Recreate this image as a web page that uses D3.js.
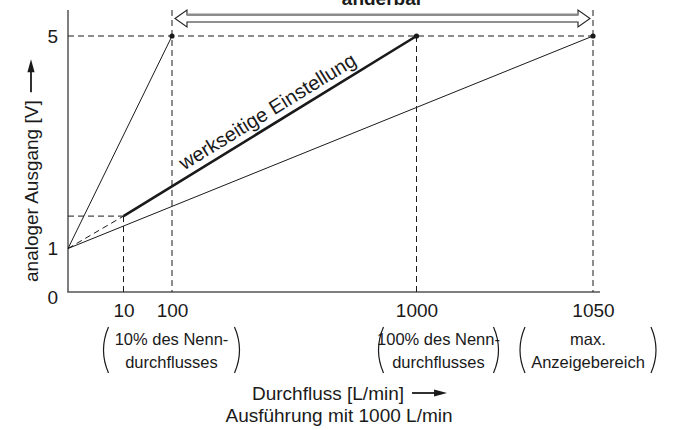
<!DOCTYPE html>
<html><head><meta charset="utf-8">
<script src="https://cdn.jsdelivr.net/npm/d3@7"></script>
<style>
html,body{margin:0;padding:0;background:#fff;}
svg{display:block;font-family:"Liberation Sans",Arial,Helvetica,sans-serif;}
</style>
</head><body>
<svg id="chart" width="678" height="430"></svg>
<script>
// Flow values marked on the x axis [L/min]
const flowTicks = [10, 100, 1000, 1050];
// Output voltages marked on the y axis [V]
const voltTicks = [0, 1, 5];
// Characteristic curves as [flow, voltage]
const curveSteep = [[0, 1], [100, 5]];          // smallest adjustable range
const curveFactory = [[10, 1.61], [1000, 5]];   // factory setting
const curveFactoryLow = [[0, 1], [10, 1.61]];   // its continuation below 10 %
const curveMax = [[0, 1], [1050, 5]];           // largest adjustable range
// Full-scale points
const fullScalePoints = [[100, 5], [1000, 5], [1050, 5]];
// Notes under the flow ticks
const noteFlows = [10, 1000, 1050];
const noteLines = [
  ["10% des Nenn-", "durchflusses"],
  ["100% des Nenn-", "durchflusses"],
  ["max.", "Anzeigebereich"]
];

const svg = d3.select("#chart");
const ink = "#1a1a1a";
const fs = 19;

// Schematic (piecewise) scales
const x = d3.scaleLinear().domain([0, ...flowTicks]).range([68, 123.5, 172, 416.5, 593]);
const y = d3.scaleLinear().domain(voltTicks).range([292, 248.5, 36]);
const line = d3.line().x(d => x(d[0])).y(d => y(d[1]));

// axis lines
svg.append("line").attr("x1", x(0)).attr("x2", x(0)).attr("y1", 10).attr("y2", y(0))
  .attr("stroke", "#555").attr("stroke-width", 1.5);
svg.append("line").attr("x1", x(0) - 0.75).attr("x2", 600).attr("y1", y(0)).attr("y2", y(0))
  .attr("stroke", "#555").attr("stroke-width", 1.5);

// tick labels via d3 axes
const gx = svg.append("g").attr("transform", `translate(0,${y(0)})`)
  .call(d3.axisBottom(x).tickValues(flowTicks).tickSize(0).tickPadding(12).tickFormat(d3.format("d")));
gx.select(".domain").remove();
gx.selectAll("text").attr("font-size", fs).attr("fill", ink).attr("font-family", null);

const gy = svg.append("g").attr("transform", `translate(${x(0)},0)`)
  .call(d3.axisLeft(y).tickValues(voltTicks).tickSize(0).tickPadding(10).tickFormat(d3.format("d")));
gy.select(".domain").remove();
gy.selectAll("text").attr("font-size", fs).attr("fill", ink).attr("font-family", null)
  .attr("dy", d => d === 0 ? "0.6em" : "0.34em");

// dashed guide lines
const dash = "6,4";
const guides = svg.append("g").attr("stroke", ink).attr("stroke-width", 1).attr("stroke-dasharray", dash).attr("fill", "none");
guides.append("line").attr("x1", x(0)).attr("x2", x(1050)).attr("y1", y(5)).attr("y2", y(5));
guides.append("line").attr("x1", x(0)).attr("x2", x(10)).attr("y1", y(curveFactory[0][1])).attr("y2", y(curveFactory[0][1]));
guides.append("line").attr("x1", x(10)).attr("x2", x(10)).attr("y1", y(curveFactory[0][1])).attr("y2", y(0));
guides.append("line").attr("x1", x(100)).attr("x2", x(100)).attr("y1", 10).attr("y2", y(0));
guides.append("line").attr("x1", x(1000)).attr("x2", x(1000)).attr("y1", y(5)).attr("y2", y(0));
guides.append("line").attr("x1", x(1050)).attr("x2", x(1050)).attr("y1", 10).attr("y2", y(0));
guides.append("path").attr("d", line(curveFactoryLow));

// curves
svg.append("path").attr("d", line(curveSteep)).attr("stroke", ink).attr("stroke-width", 1).attr("fill", "none");
svg.append("path").attr("d", line(curveMax)).attr("stroke", ink).attr("stroke-width", 1).attr("fill", "none");
svg.append("path").attr("d", line(curveFactory)).attr("stroke", ink).attr("stroke-width", 2.6).attr("fill", "none");

svg.append("g").selectAll("circle").data(fullScalePoints).join("circle")
  .attr("cx", d => x(d[0])).attr("cy", d => y(d[1])).attr("r", 2.6).attr("fill", ink);

// label along the factory curve
{
  const p0 = [x(curveFactory[0][0]), y(curveFactory[0][1])];
  const p1 = [x(curveFactory[1][0]), y(curveFactory[1][1])];
  const ang = Math.atan2(p1[1] - p0[1], p1[0] - p0[0]);
  const t = 0.22, off = 7;
  const px = p0[0] + t * (p1[0] - p0[0]) + off * Math.sin(ang);
  const py = p0[1] + t * (p1[1] - p0[1]) - off * Math.cos(ang);
  svg.append("text").attr("transform", `translate(${px},${py}) rotate(${ang * 180 / Math.PI})`)
    .attr("font-size", 20).attr("fill", ink).text("werkseitige Einstellung");
}

// adjustable range arrow
{
  const xl = x(100) + 3, xr = x(1050) - 3, yc = 18.5, hh = 8.5, sh = 3.5, hl = 12;
  const p = d3.path();
  p.moveTo(xl, yc); p.lineTo(xl + hl, yc - hh); p.lineTo(xl + hl, yc - sh);
  p.lineTo(xr - hl, yc - sh); p.lineTo(xr - hl, yc - hh); p.lineTo(xr, yc);
  p.lineTo(xr - hl, yc + hh); p.lineTo(xr - hl, yc + sh); p.lineTo(xl + hl, yc + sh);
  p.lineTo(xl + hl, yc + hh); p.closePath();
  svg.append("path").attr("d", p.toString()).attr("fill", "#fff").attr("stroke", "#222").attr("stroke-width", 1.1);
  svg.append("line").attr("x1", xl + hl).attr("x2", xr - hl).attr("y1", yc - sh - 0.5).attr("y2", yc - sh - 0.5)
    .attr("stroke", "#8a8a8a").attr("stroke-width", 2.2);
  svg.append("text").attr("x", (xl + xr) / 2).attr("y", 5).attr("text-anchor", "middle")
    .attr("font-size", fs).attr("font-weight", "bold").attr("fill", ink).text("änderbar");
}

// notes in parentheses
const noteShift = [48, 22, -5];
const noteHalfWidth = [68, 60, 68];
noteFlows.forEach((f, i) => {
  const cx = x(f) + noteShift[i];
  const g = svg.append("g");
  noteLines[i].forEach((s, j) => {
    g.append("text").attr("x", cx).attr("y", 345 + j * 23).attr("text-anchor", "middle")
      .attr("font-size", 16.5).attr("fill", ink).text(s);
  });
  const hw = noteHalfWidth[i], top = 327, bot = 373;
  g.append("path").attr("d", `M${cx - hw + 5},${top} Q${cx - hw - 5},${(top + bot) / 2} ${cx - hw + 5},${bot}`)
    .attr("fill", "none").attr("stroke", ink).attr("stroke-width", 1.2);
  g.append("path").attr("d", `M${cx + hw - 5},${top} Q${cx + hw + 5},${(top + bot) / 2} ${cx + hw - 5},${bot}`)
    .attr("fill", "none").attr("stroke", ink).attr("stroke-width", 1.2);
});

// axis titles
const arrowHead = (g, x0, y0, dir) => {
  const L = 13, W = 3.6;
  const bx = x0 - L * Math.cos(dir), by = y0 - L * Math.sin(dir);
  const nx = -Math.sin(dir) * W, ny = Math.cos(dir) * W;
  g.append("path").attr("d", `M${x0},${y0} L${bx + nx},${by + ny} L${bx - nx},${by - ny} Z`).attr("fill", ink);
};
{
  const t1 = svg.append("text").attr("x", 252).attr("y", 400).attr("font-size", fs).attr("fill", ink)
    .text("Durchfluss [L/min]");
  const w = t1.node().getComputedTextLength();
  const ax0 = 252 + w + 8, ax1 = ax0 + 35;
  svg.append("line").attr("x1", ax0).attr("x2", ax1 - 8).attr("y1", 393).attr("y2", 393)
    .attr("stroke", ink).attr("stroke-width", 1.8);
  arrowHead(svg, ax1, 393, 0);
  svg.append("text").attr("x", 339).attr("y", 422).attr("text-anchor", "middle")
    .attr("font-size", fs).attr("fill", ink).text("Ausführung mit 1000 L/min");
}
{
  const bx = 38, by = 282;
  const t = svg.append("text").attr("transform", `translate(${bx},${by}) rotate(-90)`)
    .attr("font-size", fs).attr("fill", ink).text("analoger Ausgang [V]");
  const w = t.node().getComputedTextLength();
  const a0 = by - w - 8, a1 = a0 - 33;
  const cx = bx - 7;
  svg.append("line").attr("x1", cx).attr("x2", cx).attr("y1", a0).attr("y2", a1 + 8)
    .attr("stroke", ink).attr("stroke-width", 1.8);
  arrowHead(svg, cx, a1, -Math.PI / 2);
}
</script>
</body></html>
